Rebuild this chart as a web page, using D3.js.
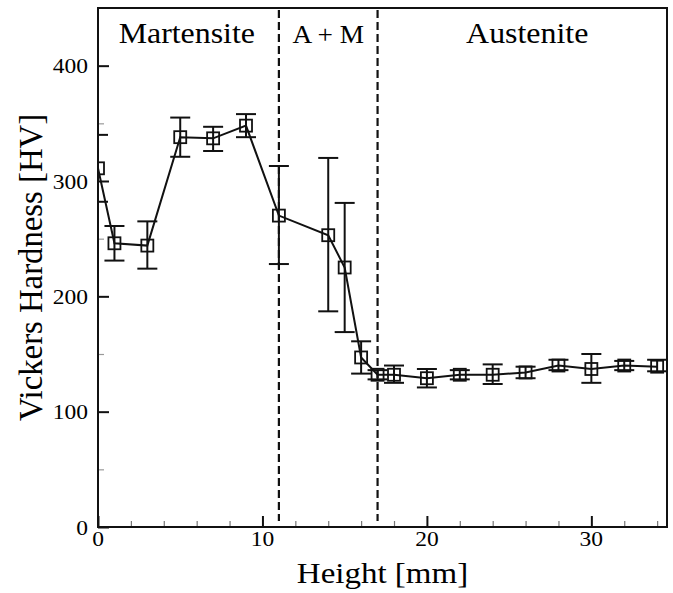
<!DOCTYPE html>
<html>
<head>
<meta charset="utf-8">
<script src="https://cdn.jsdelivr.net/npm/d3@7/dist/d3.min.js"></script>
<style>
    body { margin: 0; background: #fff; }
    svg { display: block; font-family: "Liberation Serif", "Times New Roman", serif; }
</style>
</head>
<body>
<svg id="chart" width="673" height="593"></svg>
<script>
// measured hardness along the sample height
const heights = [0, 1, 3, 5, 7, 9, 11, 14, 15, 16, 17, 18, 20, 22, 24, 26, 28, 30, 32, 34]
const hardness = [311, 246, 244, 338, 337, 348, 270, 253, 225, 147, 132, 132, 129, 132, 132, 134, 140, 137, 140, 139]
const errLow = [282, 231, 224, 321, 326, 338, 228, 187, 169, 133, 128, 125, 121, 128, 124, 129, 136, 125, 136, 135]
const errHigh = [340, 261, 265, 355, 347, 358, 313, 320, 281, 161, 136, 140, 137, 136, 141, 139, 145, 150, 144, 145]

// phase boundaries (mm) and region names
const boundaries = [11, 17]
const regions = ["Martensite", "A + M", "Austenite"]

const xTicks = [0, 10, 20, 30]
const yTicks = [0, 100, 200, 300, 400]

let margin = { top: 8, right: 6, bottom: 66, left: 98 };
let svg = d3.select("#chart");
let plotWidth = 673 - margin.left - margin.right;
let plotHeight = 593 - margin.top - margin.bottom;

let x = d3.scaleLinear().domain([0, 34.6]).range([0, plotWidth]);
let y = d3.scaleLinear().domain([0, 450]).range([plotHeight, 0]);

let plot = svg.append("g")
    .attr("transform", "translate(" + margin.left + "," + margin.top + ")");

svg.append("defs").append("clipPath").attr("id", "clip")
    .append("rect").attr("width", plotWidth).attr("height", plotHeight);

// the original figure is a bit stretched sideways, so text is widened a little
function label(parent, tx, ty, str, size, anchor, sx) {
    return parent.append("text")
        .attr("transform", "translate(" + tx + "," + ty + ") scale(" + (sx || 1.1) + ",1)")
        .attr("text-anchor", anchor)
        .style("font-size", size + "px")
        .text(str);
}

// minor ticks (inside)
let minorX = d3.range(2, 35, 2).filter(function(d) { return d % 10 !== 0; });
let minorY = [50, 150, 250, 350];

let xAxis = d3.axisTop(x).tickValues(xTicks).tickSize(11).tickFormat("");
let xMinor = d3.axisTop(x).tickValues(minorX).tickSize(6).tickFormat("");
let yAxis = d3.axisRight(y).tickValues(yTicks).tickSize(11).tickFormat("");
let yMinor = d3.axisRight(y).tickValues(minorY).tickSize(6).tickFormat("");

let ax = [
    plot.append("g").attr("transform", "translate(0," + plotHeight + ")").call(xAxis),
    plot.append("g").attr("transform", "translate(0," + plotHeight + ")").call(xMinor),
    plot.append("g").call(yAxis),
    plot.append("g").call(yMinor)
];
ax.forEach(function(g) {
    g.select(".domain").remove();
    g.selectAll("line").attr("stroke", "#111").attr("stroke-width", 2);
});
ax[1].selectAll("line").attr("stroke", "#777").attr("stroke-width", 1.2);
ax[3].selectAll("line").attr("stroke", "#999").attr("stroke-width", 1.2);

// tick labels
xTicks.forEach(function(d) {
    label(plot, x(d), plotHeight + 19, d, 21, "middle", 1.12);
});
yTicks.forEach(function(d) {
    label(plot, -10, y(d) + 7.5, d, 21, "end", 1.12);
});

// axis titles
label(svg, margin.left + plotWidth / 2, 583, "Height [mm]", 30, "middle", 1.1);

svg.append("text")
    .attr("transform", "translate(42," + (margin.top + plotHeight / 2) + ") rotate(-90) scale(1.04,1.08)")
    .attr("text-anchor", "middle")
    .style("font-size", "31.5px")
    .text("Vickers Hardness [HV]");

// phase boundaries
plot.selectAll("line.bound").data(boundaries).enter().append("line")
    .attr("x1", function(d) { return x(d); })
    .attr("x2", function(d) { return x(d); })
    .attr("y1", 2)
    .attr("y2", plotHeight - 6)
    .attr("stroke", "#111")
    .attr("stroke-width", 2.2)
    .attr("stroke-dasharray", "8,4");

let labelX = [5.4, (boundaries[0] + boundaries[1]) / 2, 26.1];
regions.forEach(function(d, i) {
    if (i === 1) label(plot, x(labelX[i]), 35, d, 26, "middle", 1.05);
    else label(plot, x(labelX[i]), 35, d, 29, "middle", 1.1);
});

let pts = heights.map(function(h, i) {
    return { x: h, v: hardness[i], lo: errLow[i], hi: errHigh[i] };
});

let inner = plot.append("g").attr("clip-path", "url(#clip)");

// line through the points
inner.append("path")
    .datum(pts)
    .attr("fill", "none")
    .attr("stroke", "#111")
    .attr("stroke-width", 2)
    .attr("d", d3.line().x(function(d) { return x(d.x); }).y(function(d) { return y(d.v); }));

// error bars
let cap = 10;
let eb = inner.selectAll("g.err").data(pts).enter().append("g")
    .attr("stroke", "#111").attr("stroke-width", 2);
eb.append("line")
    .attr("x1", function(d) { return x(d.x); }).attr("x2", function(d) { return x(d.x); })
    .attr("y1", function(d) { return y(d.lo); }).attr("y2", function(d) { return y(d.hi); });
eb.append("line")
    .attr("x1", function(d) { return x(d.x) - cap; }).attr("x2", function(d) { return x(d.x) + cap; })
    .attr("y1", function(d) { return y(d.hi); }).attr("y2", function(d) { return y(d.hi); });
eb.append("line")
    .attr("x1", function(d) { return x(d.x) - cap; }).attr("x2", function(d) { return x(d.x) + cap; })
    .attr("y1", function(d) { return y(d.lo); }).attr("y2", function(d) { return y(d.lo); });

// square markers
let s = 12;
inner.selectAll("rect.mk").data(pts).enter().append("rect")
    .attr("x", function(d) { return x(d.x) - s / 2; })
    .attr("y", function(d) { return y(d.v) - s / 2; })
    .attr("width", s).attr("height", s)
    .attr("fill", "none")
    .attr("stroke", "#111")
    .attr("stroke-width", 1.8);

// frame
plot.append("rect")
    .attr("width", plotWidth).attr("height", plotHeight)
    .attr("fill", "none").attr("stroke", "#111").attr("stroke-width", 2);
</script>
</body>
</html>
